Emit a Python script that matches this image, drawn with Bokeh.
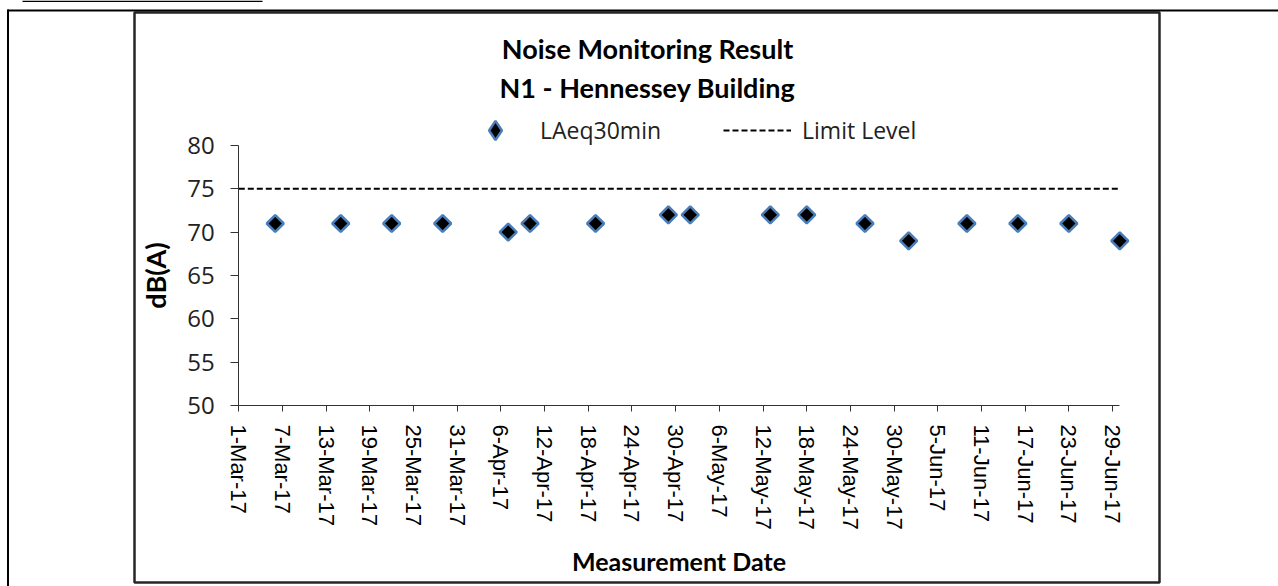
import math
from datetime import datetime, timedelta
from bokeh.plotting import figure
from bokeh.models import (Range1d, FixedTicker, Legend, LegendItem, Label, BoxAnnotation,
                          DatetimeAxis, LinearAxis)
from bokeh.embed import file_html
from bokeh.resources import INLINE

# ---- data ----
dates = ["2017-03-06", "2017-03-15", "2017-03-22", "2017-03-29", "2017-04-07",
         "2017-04-10", "2017-04-19", "2017-04-29", "2017-05-02", "2017-05-13",
         "2017-05-18", "2017-05-26", "2017-06-01", "2017-06-09", "2017-06-16",
         "2017-06-23", "2017-06-30"]
laeq30min = [71, 71, 71, 71, 70, 71, 71, 72, 72, 72, 72, 71, 69, 71, 71, 71, 69]
limit_level = 75
limit_dates = ["2017-03-01", "2017-06-30"]
tick_dates = ["2017-03-01", "2017-03-07", "2017-03-13", "2017-03-19", "2017-03-25",
              "2017-03-31", "2017-04-06", "2017-04-12", "2017-04-18", "2017-04-24",
              "2017-04-30", "2017-05-06", "2017-05-12", "2017-05-18", "2017-05-24",
              "2017-05-30", "2017-06-05", "2017-06-11", "2017-06-17", "2017-06-23",
              "2017-06-29"]
tick_labels = ["1-Mar-17", "7-Mar-17", "13-Mar-17", "19-Mar-17", "25-Mar-17",
               "31-Mar-17", "6-Apr-17", "12-Apr-17", "18-Apr-17", "24-Apr-17",
               "30-Apr-17", "6-May-17", "12-May-17", "18-May-17", "24-May-17",
               "30-May-17", "5-Jun-17", "11-Jun-17", "17-Jun-17", "23-Jun-17",
               "29-Jun-17"]
y_ticks = [50, 55, 60, 65, 70, 75, 80]
y_bounds = (50, 80)
x_bounds = ("2017-03-01", "2017-06-30")
title_lines = ["Noise Monitoring Result", "N1 - Hennessey Building"]


def to_dt(s):
    return datetime.strptime(s, "%Y-%m-%d")


def to_ms(s):
    return int((to_dt(s) - datetime(1970, 1, 1)).total_seconds() * 1000)


# ---- layout geometry (pixels on the page) ----
W, H = 1278, 586
AX_LEFT_PX, AX_RIGHT_PX = 238.3, 1119.3      # x of first / last date bound
AX_TOP_PX, AX_BOTTOM_PX = 145.0, 405.0       # y of 80 / 50
x0 = to_dt(x_bounds[0])
x1 = to_dt(x_bounds[1])
ndays = (x1 - x0).days
px_per_day = (AX_RIGHT_PX - AX_LEFT_PX) / ndays
px_per_unit = (AX_BOTTOM_PX - AX_TOP_PX) / (y_bounds[1] - y_bounds[0])
x_start = x0 - timedelta(days=AX_LEFT_PX / px_per_day)
x_end = x_start + timedelta(days=W / px_per_day)
y_end = y_bounds[1] + AX_TOP_PX / px_per_unit
y_start = y_end - H / px_per_unit


def X(px):
    return x_start + timedelta(days=px / px_per_day)


def Y(py):
    return y_end - py / px_per_unit


p = figure(width=W, height=H, output_backend="svg", toolbar_location=None,
           x_axis_location=None, y_axis_location=None,
           x_range=Range1d(x_start, x_end), y_range=Range1d(y_start, y_end),
           min_border=0, min_border_left=0, min_border_right=0,
           min_border_top=0, min_border_bottom=0)
p.outline_line_color = None
p.grid.grid_line_color = None
p.background_fill_color = "white"
p.border_fill_color = "white"

# ---- axes ----
ax = DatetimeAxis(fixed_location=y_bounds[0], bounds=(to_ms(x_bounds[0]), to_ms(x_bounds[1])))
ax.ticker = FixedTicker(ticks=[to_ms(d) for d in tick_dates])
ax.major_label_overrides = {to_ms(d): lab for d, lab in zip(tick_dates, tick_labels)}
ax.major_label_orientation = -math.pi / 2
ax.major_label_text_font = "Liberation Sans"
ax.major_label_text_font_size = "22px"
ax.major_label_text_color = "black"
ax.major_tick_out = 6
ax.major_tick_in = 0
ax.minor_tick_out = 0
ax.minor_tick_in = 0
ax.major_label_standoff = 13
ax.axis_line_color = "#333333"
ax.major_tick_line_color = "#333333"
ax.axis_label = "Measurement Date"
ax.axis_label_text_font = "Lato"
ax.axis_label_text_font_style = "bold"
ax.axis_label_text_font_size = "25px"
ax.axis_label_text_color = "black"
ax.axis_label_standoff = 13
p.add_layout(ax, "below")

ay = LinearAxis(fixed_location=to_ms(x_bounds[0]), bounds=y_bounds)
ay.ticker = FixedTicker(ticks=y_ticks)
ay.major_label_text_font = "Open Sans"
ay.major_label_text_font_size = "24px"
ay.major_label_text_color = "#222222"
ay.major_tick_out = 8
ay.major_tick_in = 0
ay.minor_tick_out = 0
ay.minor_tick_in = 0
ay.major_label_standoff = 16
ay.axis_line_color = "#333333"
ay.major_tick_line_color = "#333333"
ay.axis_label = "dB(A)"
ay.axis_label_text_font = "Lato"
ay.axis_label_text_font_style = "bold"
ay.axis_label_text_font_size = "27px"
ay.axis_label_text_color = "black"
ay.axis_label_standoff = 12
p.add_layout(ay, "left")

# ---- series ----
x = [to_dt(d) for d in dates]
# legend key for the series (legend keys are drawn unrotated, so use a diamond);
# zero size in the plot, drawn underneath the real markers
key = p.scatter(x[:1], laeq30min[:1], marker="diamond", size=0, fill_color="black",
                line_color="#4A7EBB", line_width=2.5)
lim = p.line([to_dt(d) for d in limit_dates], [limit_level, limit_level],
             line_color="black", line_width=2, line_dash="6 3")
pts = p.scatter(x, laeq30min, marker="square", angle=math.pi / 4, size=12,
                fill_color="black", line_color="#4A7EBB", line_width=2.5)

legend = Legend(items=[LegendItem(label="LAeq30min", renderers=[key]),
                       LegendItem(label="Limit Level", renderers=[lim])],
                orientation="horizontal", location=(461, H - 154),
                glyph_width=68, glyph_height=48, label_standoff=11, spacing=62,
                padding=0, margin=0, border_line_alpha=0, background_fill_alpha=0,
                label_text_font="Open Sans", label_text_font_size="23px",
                label_text_color="#222222", label_height=24)
p.add_layout(legend, "center")

# ---- titles ----
for i, t in enumerate(title_lines):
    p.add_layout(Label(x=X(647), y=Y(48 + 39 * i), text=t, text_font="Lato",
                       text_font_style="bold", text_font_size="27px",
                       text_align="center", text_baseline="middle",
                       text_color="black"))

# ---- chart box and table lines ----
p.add_layout(BoxAnnotation(left=X(134), right=X(1159), top=Y(12), bottom=Y(582),
                           fill_alpha=0, line_color="#262626", line_alpha=1,
                           line_width=2.5))
for (l, r, t, b) in [(7, W, 9, 11), (6.5, 8.5, 9, H), (22, 262, 0, 1.5)]:
    p.add_layout(BoxAnnotation(left=X(l), right=X(r), top=Y(t), bottom=Y(b),
                               fill_color="black", fill_alpha=1, line_alpha=0))

open("out.html", "w").write(file_html(p, INLINE))
